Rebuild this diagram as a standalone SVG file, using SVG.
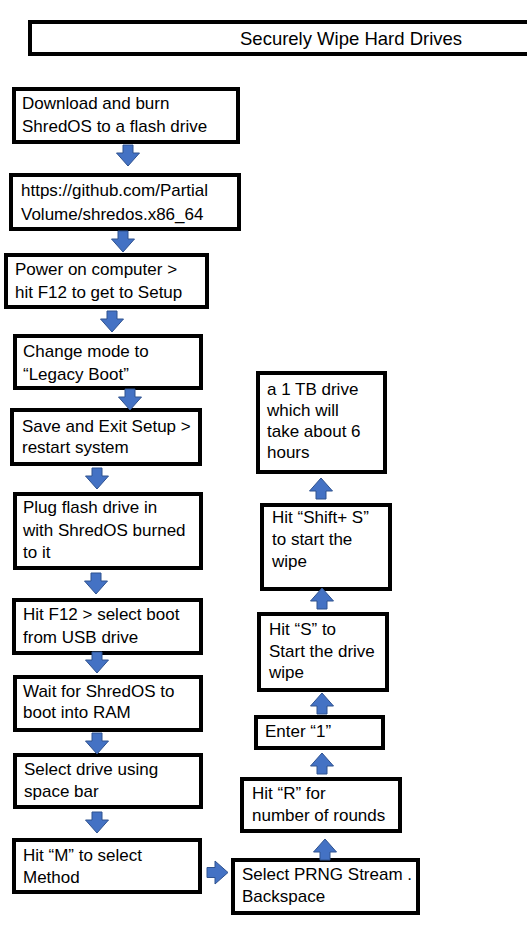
<svg xmlns="http://www.w3.org/2000/svg" width="527" height="931" viewBox="0 0 527 931">
<style>
.box{fill:#fff;stroke:#000;stroke-width:4}
.t{font-family:"Liberation Sans",Arial,sans-serif;font-size:17px;fill:#000}
.title{font-family:"Liberation Sans",Arial,sans-serif;font-size:18.5px;fill:#000}
.arr{fill:#4472C4;stroke:#2F528F;stroke-width:1}
</style>
<defs>
<path id="down" d="M-5,0 H5 V8 H11.5 L0,21 L-11.5,8 H-5 Z"/>
</defs>
<rect width="527" height="931" fill="#fff"/>
<g id="title">
<rect class="box" x="30" y="22" width="510" height="32"/>
<text class="title" x="240" y="45">Securely Wipe Hard Drives</text>
</g>
<g id="n1"><rect class="box" x="14" y="89" width="224" height="53"/>
<text class="t" x="22" y="109">Download and burn</text><text class="t" x="22" y="132">ShredOS to a flash drive</text></g>
<g id="n2"><rect class="box" x="11" y="175" width="228" height="54"/>
<text class="t" x="21" y="196">https://github.com/Partial</text><text class="t" x="21" y="220">Volume/shredos.x86_64</text></g>
<g id="n3"><rect class="box" x="6" y="255" width="201" height="52"/>
<text class="t" x="15" y="275">Power on computer &gt;</text><text class="t" x="15" y="298">hit F12 to get to Setup</text></g>
<g id="n4"><rect class="box" x="15" y="336" width="186" height="52"/>
<text class="t" x="23" y="357">Change mode to</text><text class="t" x="23" y="380">“Legacy Boot”</text></g>
<g id="n5"><rect class="box" x="12" y="410" width="188" height="54"/>
<text class="t" x="22" y="432">Save and Exit Setup &gt;</text><text class="t" x="22" y="453">restart system</text></g>
<g id="n6"><rect class="box" x="15" y="494" width="186" height="74"/>
<text class="t" x="23" y="513">Plug flash drive in</text><text class="t" x="23" y="536">with ShredOS burned</text><text class="t" x="23" y="558">to it</text></g>
<g id="n7"><rect class="box" x="14" y="600" width="187" height="53"/>
<text class="t" x="23" y="620">Hit F12 &gt; select boot</text><text class="t" x="23" y="643">from USB drive</text></g>
<g id="n8"><rect class="box" x="15" y="677" width="186" height="53"/>
<text class="t" x="23" y="697">Wait for ShredOS to</text><text class="t" x="23" y="718">boot into RAM</text></g>
<g id="n9"><rect class="box" x="15" y="755" width="186" height="52"/>
<text class="t" x="24" y="775">Select drive using</text><text class="t" x="24" y="797">space bar</text></g>
<g id="n10"><rect class="box" x="14" y="840" width="186" height="52"/>
<text class="t" x="23" y="861">Hit “M” to select</text><text class="t" x="23" y="883">Method</text></g>
<g id="n11"><rect class="box" x="233" y="860" width="185" height="53"/>
<text class="t" x="242" y="880">Select PRNG Stream .</text><text class="t" x="242" y="902">Backspace</text></g>
<g id="n12"><rect class="box" x="242" y="779" width="158" height="52"/>
<text class="t" x="252" y="799">Hit “R” for</text><text class="t" x="252" y="821">number of rounds</text></g>
<g id="n13"><rect class="box" x="256" y="717" width="127" height="31"/>
<text class="t" x="265" y="737">Enter “1”</text></g>
<g id="n14"><rect class="box" x="259" y="614" width="128" height="76"/>
<text class="t" x="269" y="635">Hit “S” to</text><text class="t" x="269" y="657">Start the drive</text><text class="t" x="269" y="678">wipe</text></g>
<g id="n15"><rect class="box" x="262" y="505" width="128" height="84"/>
<text class="t" x="272" y="523">Hit “Shift+ S”</text><text class="t" x="272" y="545">to start the</text><text class="t" x="272" y="567">wipe</text></g>
<g id="n16"><rect class="box" x="258" y="373" width="127" height="99"/>
<text class="t" x="267" y="395">a 1 TB drive</text><text class="t" x="267" y="416">which will</text><text class="t" x="267" y="437">take about 6</text><text class="t" x="267" y="458">hours</text></g>
<g id="connectors">
<use href="#down" class="arr" transform="translate(128,145)"/>
<use href="#down" class="arr" transform="translate(123,231)"/>
<use href="#down" class="arr" transform="translate(112,311)"/>
<use href="#down" class="arr" transform="translate(130,389)"/>
<use href="#down" class="arr" transform="translate(97,468)"/>
<use href="#down" class="arr" transform="translate(96,573)"/>
<use href="#down" class="arr" transform="translate(97,652)"/>
<use href="#down" class="arr" transform="translate(97,733)"/>
<use href="#down" class="arr" transform="translate(97,812)"/>
<use href="#down" class="arr" transform="translate(207,872.5) rotate(-90)"/>
<use href="#down" class="arr" transform="translate(325,860) rotate(180)"/>
<use href="#down" class="arr" transform="translate(322,774) rotate(180)"/>
<use href="#down" class="arr" transform="translate(322,714) rotate(180)"/>
<use href="#down" class="arr" transform="translate(322,609) rotate(180)"/>
<use href="#down" class="arr" transform="translate(321,499) rotate(180)"/>
</g>
</svg>
